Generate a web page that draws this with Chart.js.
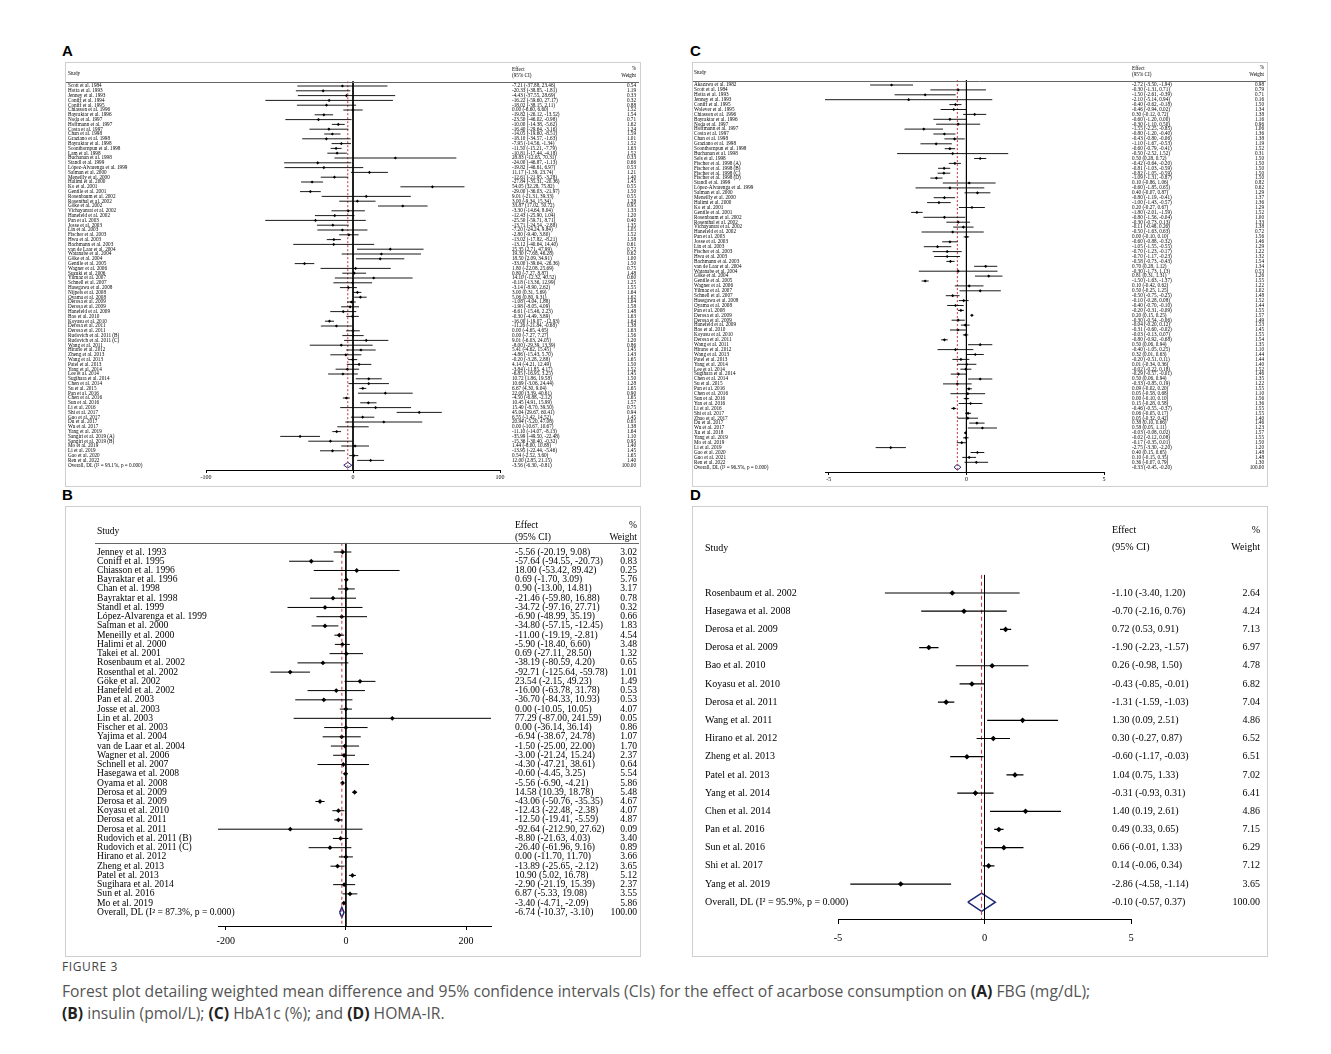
<!DOCTYPE html>
<html><head><meta charset="utf-8">
<script src="https://cdn.jsdelivr.net/npm/chart.js@4.4.0/dist/chart.umd.min.js"></script>
<style>
body{margin:0;background:#fff;width:1331px;height:1054px;position:relative;overflow:hidden;font-family:"Open Sans",sans-serif;}
canvas{position:absolute;}
.frame{position:absolute;border:1px solid #cfcfcf;box-sizing:border-box;}
.lbl{position:absolute;font:bold 15px "Liberation Sans",Arial,sans-serif;color:#000;}
#cap{position:absolute;left:62px;top:958px;width:1260px;}
#cap .t{font-size:12px;letter-spacing:0.6px;color:#444;}
#cap .c{font-size:15.7px;color:#555;line-height:22px;margin-top:5px;}
#cap b{color:#222;}
</style></head><body>
<div class="frame" style="left:65px;top:62px;width:576px;height:425px"></div>
<div class="frame" style="left:692px;top:62px;width:576px;height:425px"></div>
<div class="frame" style="left:65px;top:506px;width:576px;height:451px"></div>
<div class="frame" style="left:692px;top:506px;width:576px;height:451px"></div>
<div class="lbl" style="left:62px;top:42px">A</div>
<div class="lbl" style="left:690px;top:42px">C</div>
<div class="lbl" style="left:62px;top:486px">B</div>
<div class="lbl" style="left:690px;top:486px">D</div>
<canvas id="cA"></canvas><canvas id="cB"></canvas><canvas id="cC"></canvas><canvas id="cD"></canvas>
<div id="cap"><div class="t">FIGURE 3</div>
<div class="c">Forest plot detailing weighted mean difference and 95% confidence intervals (CIs) for the effect of acarbose consumption on <b>(A)</b> FBG (mg/dL);<br><b>(B)</b> insulin (pmol/L); <b>(C)</b> HbA1c (%); and <b>(D)</b> HOMA-IR.</div></div>
<script>
// ---------- Panel A: FBG (mg/dL) ----------
const aStudies=["Scott et al. 1984","Hotta et al. 1993","Jenney et al. 1993","Coniff et al. 1994","Coniff et al. 1995","Chiasson et al. 1996","Bayraktar et al. 1996","Noda et al. 1997","Hoffmann et al. 1997","Costa et al. 1997","Chan et al. 1998","Graziano et al. 1998","Bayraktar et al. 1998","Soonthornpun et al. 1998","Lam et al. 1998","Buchanan et al. 1998","Standl et al. 1999","López-Alvarenga et al. 1999","Salman et al. 2000","Meneilly et al. 2000","Halimi et al. 2000","Ko et al. 2001","Gentile et al. 2001","Rosenbaum et al. 2002","Rosenthal et al. 2002","Göke et al. 2002","Vichayanrat et al. 2002","Hanefeld et al. 2002","Pan et al. 2003","Josse et al. 2003","Lin et al. 2003","Fischer et al. 2003","Hwu et al. 2003","Bachmann et al. 2003","van de Laar et al. 2004","Watanabe et al. 2004","Göke et al. 2004","Gentile et al. 2005","Wagner et al. 2006","Suzuki et al. 2006","Yilmaz et al. 2007","Schnell et al. 2007","Hasegawa et al. 2008","Nijpels et al. 2008","Oyama et al. 2008","Derosa et al. 2009","Derosa et al. 2009","Hanefeld et al. 2009","Bao et al. 2010","Koyasu et al. 2010","Derosa et al. 2011","Derosa et al. 2011","Rudovich et al. 2011 (B)","Rudovich et al. 2011 (C)","Wang et al. 2011","Hirano et al. 2012","Zheng et al. 2013","Wang et al. 2013","Patel et al. 2013","Yang et al. 2014","Lee et al. 2014","Sugihara et al. 2014","Chen et al. 2014","Su et al. 2015","Pan et al. 2016","Chen et al. 2016","Sun et al. 2016","Li et al. 2016","Shi et al. 2017","Guo et al. 2017","Du et al. 2017","Wu et al. 2017","Yang et al. 2019","Sangiri et al. 2019 (A)","Sangiri et al. 2019 (B)","Mo et al. 2019","Li et al. 2019","Gao et al. 2020","Ren et al. 2022"];
const aEffect=[-7.21,-20.33,-4.43,-16.22,-18.02,0.00,-19.82,-23.50,-10.00,-16.40,-14.05,-18.10,-7.95,-11.50,-10.81,28.83,-24.00,-19.82,11.17,-12.61,-27.84,54.05,-29.00,9.01,3.00,33.87,-3.30,-12.43,-25.50,-13.71,-7.20,-2.80,-13.02,-13.12,25.35,19.30,18.50,-33.00,1.80,0.80,14.10,-0.18,-3.14,3.00,5.06,-1.08,-1.98,-6.61,-0.30,-16.00,-11.26,0.00,0.00,9.01,-8.00,5.41,-4.86,-0.20,4.14,-3.84,-6.85,10.72,10.69,6.67,22.00,-4.50,10.45,15.40,45.04,6.55,20.94,0.00,-11.10,-35.99,-15.36,1.44,-13.95,0.54,12.00];
const aLower=[-37.88,-38.85,-37.55,-59.60,-38.15,-6.60,-26.12,-46.02,-14.38,-29.64,-19.60,-34.57,-14.56,-15.21,-17.44,-12.65,-46.87,-46.61,-1.39,-21.95,-35.31,32.28,-36.03,-21.31,-9.34,17.02,-14.64,-25.90,-59.71,-24.54,-24.24,-9.40,-17.82,-40.64,2.71,-7.68,2.09,-39.64,-22.08,-7.27,-12.32,-13.36,-8.90,0.31,0.80,-4.04,-8.05,-15.46,-4.49,-19.07,-21.84,-4.65,-7.27,-6.03,-29.39,-4.62,-15.43,-3.28,-4.21,-11.85,-16.95,1.86,-3.06,4.30,3.39,-6.88,4.91,-8.70,29.67,-1.42,-5.20,-10.67,-14.07,-49.50,-30.40,-8.00,-22.44,-2.52,2.85];
const aUpper=[23.46,-1.81,28.69,27.17,2.11,6.60,-13.52,-0.98,-5.62,-3.16,-8.51,-1.63,-1.34,-7.79,-4.18,70.31,-1.13,6.97,23.74,-3.28,-20.36,75.82,-21.97,39.33,15.34,50.72,8.04,1.04,8.71,-2.88,9.84,3.80,-8.21,14.40,47.99,46.28,34.91,-26.36,25.69,8.87,40.52,12.99,2.62,5.69,9.31,1.88,4.09,2.23,3.89,-12.93,-0.68,4.65,7.27,24.05,13.39,15.45,5.70,2.88,12.49,4.17,3.25,19.58,24.44,9.04,40.61,-2.12,15.99,39.50,60.41,14.52,47.08,10.67,-8.13,-22.48,-0.32,10.88,-5.46,3.60,21.15];
const aWeight=[0.54,1.19,0.33,0.32,0.88,1.52,1.54,0.71,1.62,1.24,1.59,1.01,1.52,1.63,1.52,0.33,0.66,0.53,1.21,1.40,1.45,0.55,1.50,0.55,1.28,0.95,1.33,1.20,0.40,1.35,1.05,1.52,1.58,0.61,0.72,0.62,1.00,1.50,0.75,1.48,0.60,1.25,1.55,1.64,1.62,1.64,1.58,1.48,1.63,1.64,1.38,1.63,1.56,1.20,0.86,1.45,1.43,1.65,1.50,1.52,1.45,1.50,1.28,1.65,0.90,1.65,1.57,0.75,0.94,1.45,0.65,1.38,1.64,1.10,0.95,1.40,1.45,1.65,1.40];
const aOverall=[-3.56,-6.30,-0.81];
const aOverallLabel="Overall, DL (I\u00b2 = 93.1%, p = 0.000)";
const aTicks=[-100,0,100];
const aRange=[-100,100];

// ---------- Panel B: insulin (pmol/L) ----------
const bStudies=["Jenney et al. 1993","Coniff et al. 1995","Chiasson et al. 1996","Bayraktar et al. 1996","Chan et al. 1998","Bayraktar et al. 1998","Standl et al. 1999","López-Alvarenga et al. 1999","Salman et al. 2000","Meneilly et al. 2000","Halimi et al. 2000","Takei et al. 2001","Rosenbaum et al. 2002","Rosenthal et al. 2002","Göke et al. 2002","Hanefeld et al. 2002","Pan et al. 2003","Josse et al. 2003","Lin et al. 2003","Fischer et al. 2003","Yajima et al. 2004","van de Laar et al. 2004","Wagner et al. 2006","Schnell et al. 2007","Hasegawa et al. 2008","Oyama et al. 2008","Derosa et al. 2009","Derosa et al. 2009","Koyasu et al. 2010","Derosa et al. 2011","Derosa et al. 2011","Rudovich et al. 2011 (B)","Rudovich et al. 2011 (C)","Hirano et al. 2012","Zheng et al. 2013","Patel et al. 2013","Sugihara et al. 2014","Sun et al. 2016","Mo et al. 2019"];
const bEffect=[-5.56,-57.64,18.00,0.69,0.90,-21.46,-34.72,-6.90,-34.80,-11.00,-5.90,0.69,-38.19,-92.71,23.54,-16.00,-36.70,0.00,77.29,0.00,-6.94,-1.50,-3.00,-4.30,-0.60,-5.56,14.58,-43.06,-12.43,-12.50,-92.64,-8.80,-26.40,0.00,-13.89,10.90,-2.90,6.87,-3.40];
const bLower=[-20.19,-94.55,-53.42,-1.70,-13.00,-59.80,-97.16,-48.99,-57.15,-19.19,-18.40,-27.11,-80.59,-125.64,-2.15,-63.78,-84.33,-10.05,-87.00,-36.14,-38.67,-25.00,-21.24,-47.21,-4.45,-6.90,10.39,-50.76,-22.48,-19.41,-212.90,-21.63,-61.96,-11.70,-25.65,5.02,-21.19,-5.33,-4.71];
const bUpper=[9.08,-20.73,89.42,3.09,14.81,16.88,27.71,35.19,-12.45,-2.81,6.60,28.50,4.20,-59.78,49.23,31.78,10.93,10.05,241.59,36.14,24.78,22.00,15.24,38.61,3.25,-4.21,18.78,-35.35,-2.38,-5.59,27.62,4.03,9.16,11.70,-2.12,16.78,15.39,19.08,-2.09];
const bWeight=[3.02,0.83,0.25,5.76,3.17,0.78,0.32,0.66,1.83,4.54,3.48,1.32,0.65,1.01,1.49,0.53,0.53,4.07,0.05,0.86,1.07,1.70,2.37,0.64,5.54,5.86,5.48,4.67,4.07,4.87,0.09,3.40,0.89,3.66,3.65,5.12,2.37,3.55,5.86];
const bOverall=[-6.74,-10.37,-3.10];
const bOverallLabel="Overall, DL (I\u00b2 = 87.3%, p = 0.000)";
const bTicks=[-200,0,200];
const bRange=[-212.90,241.59];

// ---------- Panel C: HbA1c (%) ----------
const cStudies=["Akazawa et al. 1982","Scott et al. 1984","Hotta et al. 1993","Jenney et al. 1993","Coniff et al. 1995","Wolever et al. 1995","Chiasson et al. 1996","Bayraktar et al. 1996","Noda et al. 1997","Hoffmann et al. 1997","Costa et al. 1997","Chan et al. 1998","Graziano et al. 1998","Soonthornpun et al. 1998","Buchanan et al. 1998","Sels et al. 1998","Fischer et al. 1998 (A)","Fischer et al. 1998 (B)","Fischer et al. 1998 (C)","Fischer et al. 1998 (D)","Standl et al. 1999","López-Alvarenga et al. 1999","Salman et al. 2000","Meneilly et al. 2000","Halimi et al. 2000","Ko et al. 2001","Gentile et al. 2001","Rosenbaum et al. 2002","Rosenthal et al. 2002","Vichayanrat et al. 2002","Hanefeld et al. 2002","Pan et al. 2003","Josse et al. 2003","Lin et al. 2003","Fischer et al. 2003","Hwu et al. 2003","Bachmann et al. 2003","van de Laar et al. 2004","Watanabe et al. 2004","Göke et al. 2004","Gentile et al. 2005","Wagner et al. 2006","Yilmaz et al. 2007","Schnell et al. 2007","Hasegawa et al. 2008","Oyama et al. 2008","Pan et al. 2008","Derosa et al. 2009","Derosa et al. 2009","Hanefeld et al. 2009","Bao et al. 2010","Koyasu et al. 2010","Derosa et al. 2011","Wang et al. 2011","Hirano et al. 2012","Wang et al. 2013","Patel et al. 2013","Yang et al. 2014","Lee et al. 2014","Sugihara et al. 2014","Chen et al. 2014","Su et al. 2015","Pan et al. 2016","Chen et al. 2016","Sun et al. 2016","Yan et al. 2016","Li et al. 2016","Shi et al. 2017","Zhao et al. 2017","Du et al. 2017","Wu et al. 2017","Xu et al. 2018","Yang et al. 2019","Mo et al. 2019","Li et al. 2019","Gao et al. 2020","Guo et al. 2021","Ren et al. 2022"];
const cEffect=[-2.72,-0.30,-1.50,-2.10,-0.40,-0.46,0.30,-0.60,-0.30,-1.55,-0.80,-0.43,-1.10,-0.60,-0.50,0.50,-0.42,-0.81,-0.82,-1.09,0.10,-0.60,0.40,-0.80,-1.00,0.20,-1.80,-0.80,-0.30,-0.11,-0.50,0.00,-0.60,-1.05,-0.70,-0.70,-0.58,0.70,-0.30,0.81,-1.50,0.10,0.50,-0.50,-0.10,-0.40,-0.20,0.20,-0.30,-0.04,-0.31,-0.03,-0.80,0.50,-0.40,0.32,-0.20,0.01,-0.02,-0.29,0.50,-0.33,0.09,0.05,0.00,0.15,-0.46,0.06,0.05,0.38,0.58,-0.03,-0.02,-0.17,-2.75,0.40,0.10,0.36];
const cLower=[-3.50,-1.31,-2.61,-5.14,-0.62,-0.94,-0.12,-1.20,-1.10,-2.25,-1.20,-0.80,-1.67,-0.79,-2.52,0.28,-0.64,-1.03,-1.05,-1.31,-0.86,-1.85,-0.07,-1.19,-1.43,-0.27,-2.01,-1.56,-0.73,-0.48,-1.63,-0.10,-0.88,-1.55,-1.23,-1.17,-0.73,0.28,-1.73,0.31,-1.63,-0.42,-0.25,-0.75,-0.28,-0.70,-0.31,0.15,-0.54,-0.20,-0.60,-0.13,-0.92,0.06,-1.05,0.01,-0.51,-0.34,-0.22,-0.57,0.06,-0.85,-0.02,-0.58,-0.10,-0.28,-0.55,-0.05,-0.32,0.10,0.05,-0.08,-0.12,-0.35,-3.30,0.15,-0.15,-0.07];
const cUpper=[-1.94,0.71,-0.39,0.94,-0.18,0.02,0.72,0.00,0.50,-0.85,-0.40,-0.06,-0.53,-0.41,1.52,0.72,-0.20,-0.59,-0.59,-0.87,1.06,0.65,0.87,-0.41,-0.57,0.67,-1.59,-0.04,0.13,0.26,0.63,0.10,-0.32,-0.55,-0.17,-0.23,-0.43,1.12,1.13,1.31,-1.37,0.62,1.25,-0.25,0.08,-0.10,-0.09,0.25,-0.06,0.12,-0.02,0.07,-0.68,0.94,0.25,0.63,0.11,0.36,0.18,-0.01,0.94,0.19,0.20,0.68,0.10,0.58,-0.37,0.17,0.42,0.66,1.11,0.02,0.08,0.01,-2.20,0.65,0.35,0.79];
const cWeight=[0.98,0.79,0.71,0.16,1.50,1.34,1.38,1.16,0.96,1.06,1.36,1.38,1.19,1.52,0.31,1.50,1.50,1.50,1.50,1.50,0.82,0.62,1.29,1.37,1.36,1.29,1.52,1.00,1.33,1.38,0.72,1.56,1.46,1.29,1.22,1.32,1.54,1.34,0.53,1.26,1.55,1.22,1.02,1.48,1.52,1.44,1.55,1.57,1.49,1.53,1.45,1.55,1.54,1.35,1.10,1.44,1.44,1.40,1.52,1.46,1.35,1.22,1.55,1.10,1.56,1.36,1.55,1.55,1.40,1.46,1.23,1.57,1.55,1.50,1.20,1.48,1.48,1.30];
const cOverall=[-0.33,-0.45,-0.20];
const cOverallLabel="Overall, DL (I\u00b2 = 96.3%, p = 0.000)";
const cTicks=[-5,0,5];
const cRange=[-5.14,5];

// ---------- Panel D: HOMA-IR ----------
const dStudies=["Rosenbaum et al. 2002","Hasegawa et al. 2008","Derosa et al. 2009","Derosa et al. 2009","Bao et al. 2010","Koyasu et al. 2010","Derosa et al. 2011","Wang et al. 2011","Hirano et al. 2012","Zheng et al. 2013","Patel et al. 2013","Yang et al. 2014","Chen et al. 2014","Pan et al. 2016","Sun et al. 2016","Shi et al. 2017","Yang et al. 2019"];
const dEffect=[-1.10,-0.70,0.72,-1.90,0.26,-0.43,-1.31,1.30,0.30,-0.60,1.04,-0.31,1.40,0.49,0.66,0.14,-2.86];
const dLower=[-3.40,-2.16,0.53,-2.23,-0.98,-0.85,-1.59,0.09,-0.27,-1.17,0.75,-0.93,0.19,0.33,-0.01,-0.06,-4.58];
const dUpper=[1.20,0.76,0.91,-1.57,1.50,-0.01,-1.03,2.51,0.87,-0.03,1.33,0.31,2.61,0.65,1.33,0.34,-1.14];
const dWeight=[2.64,4.24,7.13,6.97,4.78,6.82,7.04,4.86,6.52,6.51,7.02,6.41,4.86,7.15,6.29,7.12,3.65];
const dOverall=[-0.10,-0.57,0.37];
const dOverallLabel="Overall, DL (I\u00b2 = 95.9%, p = 0.000)";
const dTicks=[-5,0,5];
const dRange=[-5,5];

const SERIF='"Liberation Serif","Times New Roman",serif';
const f2=v=>v.toFixed(2);

function makeForest(id,D,L){
  const cv=document.getElementById(id);
  cv.width=L.w; cv.height=L.h; cv.style.left=L.x+'px'; cv.style.top=L.y+'px';
  const N=D.studies.length, ovRow=N+1;
  const yMax=(L.axisY-L.rowTop)/L.sp+1;
  const ci=[],pts=[];
  for(let i=0;i<N;i++){
    ci.push({x:D.lo[i],y:i+1},{x:D.hi[i],y:i+1},{x:D.hi[i],y:null});
    pts.push({x:D.eff[i],y:i+1});
  }
  const [oe,ol,oh]=D.ov;
  const diamond=[{x:ol,y:ovRow},{x:oe,y:ovRow-L.dh},{x:oh,y:ovRow},{x:oe,y:ovRow+L.dh},{x:ol,y:ovRow}];
  const ox=L.x, oy=L.y;
  const textPlugin={id:'forestText',afterDraw(chart){
    const c=chart.ctx, ys=chart.scales.y;
    c.save(); c.fillStyle='#000'; c.textBaseline='middle';
    c.font=L.fs+'px '+SERIF;
    const row=(name,eff,w,i)=>{
      const y=ys.getPixelForValue(i);
      c.textAlign='left'; c.fillText(name,L.nameX-ox,y); c.fillText(eff,L.effX-ox,y);
      c.textAlign='right'; c.fillText(w,L.wX-ox,y);
    };
    for(let i=0;i<N;i++) row(D.studies[i],f2(D.eff[i])+' ('+f2(D.lo[i])+', '+f2(D.hi[i])+')',f2(D.w[i]),i+1);
    row(D.ovLabel,f2(oe)+' ('+f2(ol)+', '+f2(oh)+')','100.00',ovRow);
    const H=L.head;
    c.textAlign='left';
    c.fillText('Study',L.nameX-ox,H.study-oy);
    c.fillText('Effect',L.effX-ox,H.eff1-oy);
    c.fillText('(95% CI)',L.effX-ox,H.eff2-oy);
    c.textAlign='right';
    c.fillText('%',L.wX-ox,H.w1-oy);
    c.fillText('Weight',L.wX-ox,H.w2-oy);
    if(H.line){c.strokeStyle='#666';c.lineWidth=1;c.beginPath();c.moveTo(H.line[0]-ox,H.line[2]-oy+0.5);c.lineTo(H.line[1]-ox,H.line[2]-oy+0.5);c.stroke();}
    c.restore();
  }};
  new Chart(cv,{
    type:'scatter',
    data:{datasets:[
      {type:'line',data:ci,borderColor:'#000',borderWidth:L.lw,pointRadius:0,spanGaps:false,tension:0},
      {type:'line',data:[{x:0,y:0},{x:0,y:yMax}],borderColor:'#000',borderWidth:1,pointRadius:0},
      {type:'line',data:[{x:oe,y:0},{x:oe,y:yMax}],borderColor:'#c8323c',borderWidth:1,borderDash:L.dash,pointRadius:0},
      {type:'scatter',data:pts,pointStyle:'rectRot',pointRadius:L.mr,backgroundColor:'#000',borderColor:'#000',borderWidth:0},
      {type:'line',data:diamond,borderColor:'#1b2878',borderWidth:L.dw,pointRadius:0,fill:false,tension:0}
    ]},
    options:{
      responsive:false,animation:false,devicePixelRatio:1,
      events:[],
      plugins:{legend:{display:false},tooltip:{enabled:false}},
      layout:{padding:{left:L.xl-L.x,right:L.x+L.w-L.xr,top:L.rowTop-L.sp-L.y,bottom:L.y+L.h-L.axisY-L.axH}},
      scales:{
        x:{type:'linear',min:D.range[0],max:D.range[1],
          afterBuildTicks:s=>{s.ticks=D.ticks.map(v=>({value:v}));},
          afterFit:s=>{s.height=L.axH;},
          grid:{drawOnChartArea:false,drawTicks:true,tickLength:L.tl,color:'#000'},
          border:{display:true,color:'#000',width:1},
          ticks:{color:'#000',font:{family:SERIF,size:L.tfs},padding:L.tp,maxRotation:0,autoSkip:false}},
        y:{type:'linear',display:false,reverse:true,min:0,max:yMax}
      }
    },
    plugins:[textPlugin]
  });
}

makeForest('cA',{studies:aStudies,eff:aEffect,lo:aLower,hi:aUpper,w:aWeight,ov:aOverall,ovLabel:aOverallLabel,ticks:aTicks,range:aRange},
  {x:66,y:63,w:574,h:423,xl:206,xr:500,rowTop:86,sp:4.8,axisY:470,axH:14,fs:5.2,tfs:6,tl:3,tp:1,
   nameX:68,effX:512,wX:636,lw:0.9,mr:1.6,dh:0.6,dw:1,dash:[2,2],
   head:{study:74,eff1:70,eff2:76,w1:69,w2:76,line:[66,639,82]}});
makeForest('cC',{studies:cStudies,eff:cEffect,lo:cLower,hi:cUpper,w:cWeight,ov:cOverall,ovLabel:cOverallLabel,ticks:cTicks,range:cRange},
  {x:693,y:63,w:574,h:423,xl:825,xr:1104,rowTop:85,sp:4.9,axisY:472,axH:14,fs:5.2,tfs:6,tl:3,tp:1,
   nameX:694,effX:1132,wX:1264,lw:0.9,mr:1.6,dh:0.6,dw:1,dash:[2,2],
   head:{study:73,eff1:69,eff2:75,w1:68,w2:75,line:[693,1266,81]}});
makeForest('cB',{studies:bStudies,eff:bEffect,lo:bLower,hi:bUpper,w:bWeight,ov:bOverall,ovLabel:bOverallLabel,ticks:bTicks,range:bRange},
  {x:66,y:507,w:574,h:449,xl:218,xr:491,rowTop:552,sp:9.24,axisY:926,axH:24,fs:9.6,tfs:10,tl:4,tp:5,
   nameX:97,effX:515,wX:637,lw:1,mr:2.4,dh:0.55,dw:1.5,dash:[3,3],
   head:{study:531,eff1:525,eff2:537,w1:525,w2:537,line:[95,639,543]}});
makeForest('cD',{studies:dStudies,eff:dEffect,lo:dLower,hi:dUpper,w:dWeight,ov:dOverall,ovLabel:dOverallLabel,ticks:dTicks,range:dRange},
  {x:693,y:507,w:574,h:449,xl:838,xr:1131,rowTop:593,sp:18.19,axisY:919,axH:30,fs:10,tfs:10.5,tl:5,tp:8,
   nameX:705,effX:1112,wX:1260,lw:1.2,mr:2.8,dh:0.5,dw:1.5,dash:[4,3],
   head:{study:548,eff1:530,eff2:547,w1:530,w2:547,line:null}});
</script>
</body></html>
